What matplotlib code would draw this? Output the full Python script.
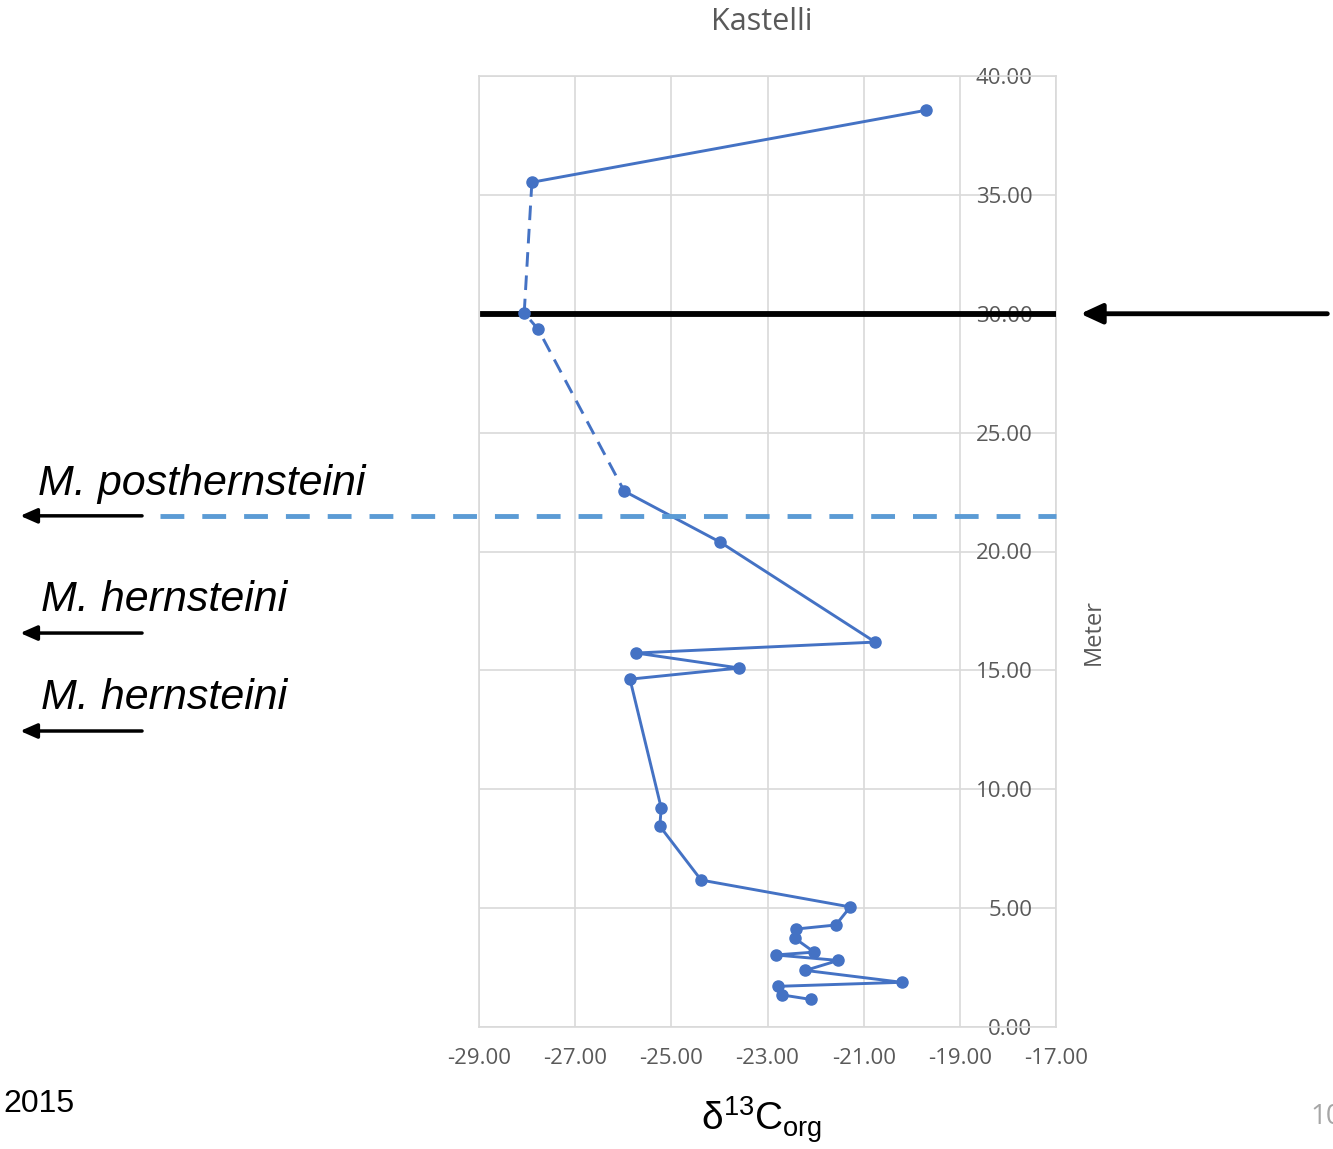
import matplotlib.pyplot as plt

# Data
d13c = [-19.70, -27.90, -28.06, -27.77, -25.98, -23.99, -20.76, -25.73, -23.59, -25.86,
        -25.21, -25.24, -24.38, -21.28, -21.58, -22.41, -22.43, -22.03, -22.83, -21.53,
        -22.21, -20.21, -22.79, -22.70, -22.10]
meter = [38.56, 35.53, 30.03, 29.35, 22.54, 20.40, 16.19, 15.73, 15.10, 14.63,
         9.21, 8.45, 6.18, 5.05, 4.29, 4.12, 3.73, 3.15, 3.03, 2.80,
         2.38, 1.88, 1.71, 1.35, 1.16]
x_ticks = [-29, -27, -25, -23, -21, -19, -17]
y_ticks = [0, 5, 10, 15, 20, 25, 30, 35, 40]

boundary_black = 30.0
boundary_blue = 21.5
species = ['M. posthernsteini', 'M. hernsteini', 'M. hernsteini']
species_arrow_y = [21.5, 16.57, 12.45]
species_text_y = [22.85, 17.95, 13.85]

gray = '#595959'
grid = '#D9D9D9'
blue = '#4472C4'

fig = plt.figure(figsize=(13.33, 11.49), dpi=100)
fig.patch.set_facecolor('white')
ax = fig.add_axes([479 / 1333, 1 - 1027 / 1149, 577 / 1333, 951 / 1149])

# dashed part (35.5 m -> 22.5 m), solid elsewhere
ax.plot(d13c[:2], meter[:2], '-', c=blue, lw=2.1)
ax.plot(d13c[1:5], meter[1:5], '--', c=blue, lw=2.1, dashes=(5, 3))
ax.plot(d13c[4:], meter[4:], '-', c=blue, lw=2.1)
ax.plot(d13c, meter, 'o', c=blue, ms=8, zorder=4)

# boundary lines
ax.plot([-28.92, -17], [boundary_black, boundary_black], c='black', lw=4.2, zorder=3)
ax.plot([-35.63, -17], [boundary_blue, boundary_blue], c='#5B9BD5', lw=3.5,
        dashes=(4.9, 3.7), clip_on=False, zorder=3)
ax.annotate('', xy=(-16.55, boundary_black), xytext=(-11.3, boundary_black),
            arrowprops=dict(arrowstyle='-|>,head_length=0.65,head_width=0.3',
                            color='black', lw=3.5, mutation_scale=20),
            annotation_clip=False)

for ya in species_arrow_y:
    ax.annotate('', xy=(-38.6, ya), xytext=(-35.95, ya),
                arrowprops=dict(arrowstyle='-|>,head_length=0.5,head_width=0.22',
                                color='black', lw=2.5, mutation_scale=20),
                annotation_clip=False)
for name, yt, xt in zip(species, species_text_y, [-38.17, -38.1, -38.1]):
    ax.text(xt, yt, name, fontsize=31, style='italic', family='Liberation Sans',
            va='center', ha='left', clip_on=False)

# axes
ax.set_xlim(-29, -17)
ax.set_ylim(0, 40)
ax.set_xticks(x_ticks)
ax.set_yticks(y_ticks)
ax.set_xticklabels(['%.2f' % v for v in x_ticks])
ax.set_yticklabels(['%.2f' % v for v in y_ticks])
ax.grid(True, color=grid, lw=1.2)
ax.set_axisbelow(True)
for s in ax.spines.values():
    s.set_color(grid)
    s.set_linewidth(1.2)
ax.tick_params(axis='both', length=0, labelsize=16, labelcolor=gray)
ax.tick_params(axis='x', pad=15)
ax.yaxis.tick_right()
ax.tick_params(axis='y', pad=-17)
for lbl in ax.get_yticklabels():
    lbl.set_ha('right')
    lbl.set_family('Open Sans')
for lbl in ax.get_xticklabels():
    lbl.set_family('Open Sans')

ax.text(1.065, 0.415, 'Meter', transform=ax.transAxes, rotation=90, fontsize=17,
        color=gray, family='Open Sans', va='center', ha='center')
fig.text(762 / 1333, 1 - 22 / 1149, 'Kastelli', fontsize=22, color=gray,
         family='Open Sans', va='center', ha='center')

fig.text(3 / 1333, 1 - 1104 / 1149, '2015', fontsize=23, family='Liberation Sans',
         va='center', ha='left')
fig.text(762 / 1333, 1 - 1120 / 1149, r'$\mathregular{\delta^{13}C_{org}}$',
         fontsize=28, family='Liberation Sans', va='center', ha='center')
fig.text(1310 / 1333, 1 - 1117 / 1149, '10', fontsize=20, color='#A6A6A6',
         family='Open Sans', va='center', ha='left')

plt.savefig('out.png', dpi=100)
